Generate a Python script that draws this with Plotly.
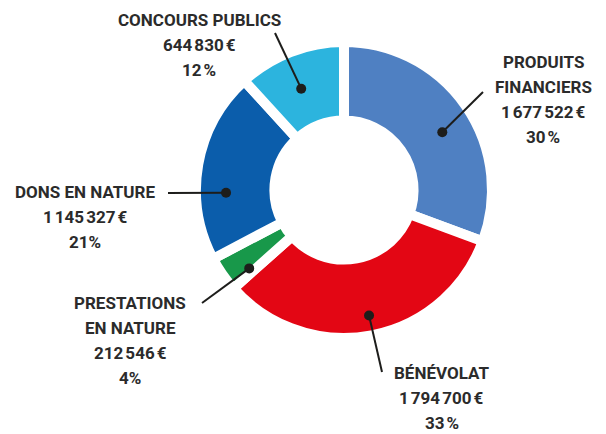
import math
import plotly.graph_objects as go

# ---- data ----
categories = ["PRODUITS<br>FINANCIERS", "BÉNÉVOLAT", "PRESTATIONS<br>EN NATURE", "DONS EN NATURE", "CONCOURS PUBLICS"]
values = [1677522, 1794700, 212546, 1145327, 644830]
amount_labels = ["1\u202f677\u202f522\u202f€", "1\u202f794\u202f700\u202f€", "212\u202f546\u202f€", "1\u202f145\u202f327\u202f€", "644\u202f830\u202f€"]
percent_labels = ["30\u202f%", "33\u202f%", "4%", "21%", "12\u202f%"]
colors = ["#4f80c2", "#e30614", "#18984a", "#0b5dab", "#2cb4de"]

# ---- layout geometry (pixels) ----
W, H = 606, 434
CX, CY = 344, 190      # pie centre, from top-left
R = 148                # pie radius
HOLE = 0.47
LINE_H = 25
# where the marker dot sits inside each slice: fraction of the slice angle, radius px
dot_frac = [0.54, 0.495, 0.15, 0.35, 0.46]
dot_rad = [114, 128, 123, 118, 110]
# label text centre x, first line centre y, leader end point (x, y), in px
label_pos = [
    (543, 62, 483, 92),
    (442, 373, 382, 372),
    (130, 303, 202, 303),
    (85, 192, 168, 193),
    (199, 20, 275, 33),
]
FONT = "Roboto, Liberation Sans, sans-serif"

def px2paper(x, y):
    return x / W, 1 - y / H

fig = go.Figure()
fig.add_trace(go.Pie(
    labels=[c.replace("<br>", " ") for c in categories],
    values=values,
    sort=False,
    direction="clockwise",
    rotation=0,
    hole=HOLE,
    textinfo="none",
    hoverinfo="label+value+percent",
    marker=dict(colors=colors, line=dict(color="white", width=10)),
    domain=dict(x=[(CX - R) / W, (CX + R) / W], y=[1 - (CY + R) / H, 1 - (CY - R) / H]),
    showlegend=False,
))

total = sum(values)
cum = 0
shapes = []
annotations = []
for i, v in enumerate(values):
    ang = (cum + v * dot_frac[i]) / total * 2 * math.pi
    cum += v
    dx = CX + dot_rad[i] * math.sin(ang)
    dy = CY - dot_rad[i] * math.cos(ang)
    tx, ty, ex, ey = label_pos[i]
    x0, y0 = px2paper(dx, dy)
    x1, y1 = px2paper(ex, ey)
    shapes.append(dict(type="line", xref="paper", yref="paper", x0=x0, y0=y0, x1=x1, y1=y1,
                       line=dict(color="#1d1d1b", width=2)))
    r = 5
    a0, b0 = px2paper(dx - r, dy + r)
    a1, b1 = px2paper(dx + r, dy - r)
    shapes.append(dict(type="circle", xref="paper", yref="paper", x0=a0, y0=b0, x1=a1, y1=b1,
                       fillcolor="#1d1d1b", line=dict(width=0)))
    lines = categories[i].split("<br>") + [amount_labels[i], percent_labels[i]]
    for k, txt in enumerate(lines):
        ax, ay = px2paper(tx, ty + k * LINE_H)
        annotations.append(dict(
            xref="paper", yref="paper", x=ax, y=ay, xanchor="center", yanchor="middle",
            text="<b>" + txt + "</b>", showarrow=False, align="center",
            font=dict(family=FONT, size=17, color="#2b2b2b"),
        ))

fig.update_layout(
    width=W, height=H,
    margin=dict(l=0, r=0, t=0, b=0),
    paper_bgcolor="white", plot_bgcolor="white",
    shapes=shapes, annotations=annotations,
)
fig.write_html("out.html", config={"displayModeBar": False},
               post_script="document.body.style.margin='0';")
